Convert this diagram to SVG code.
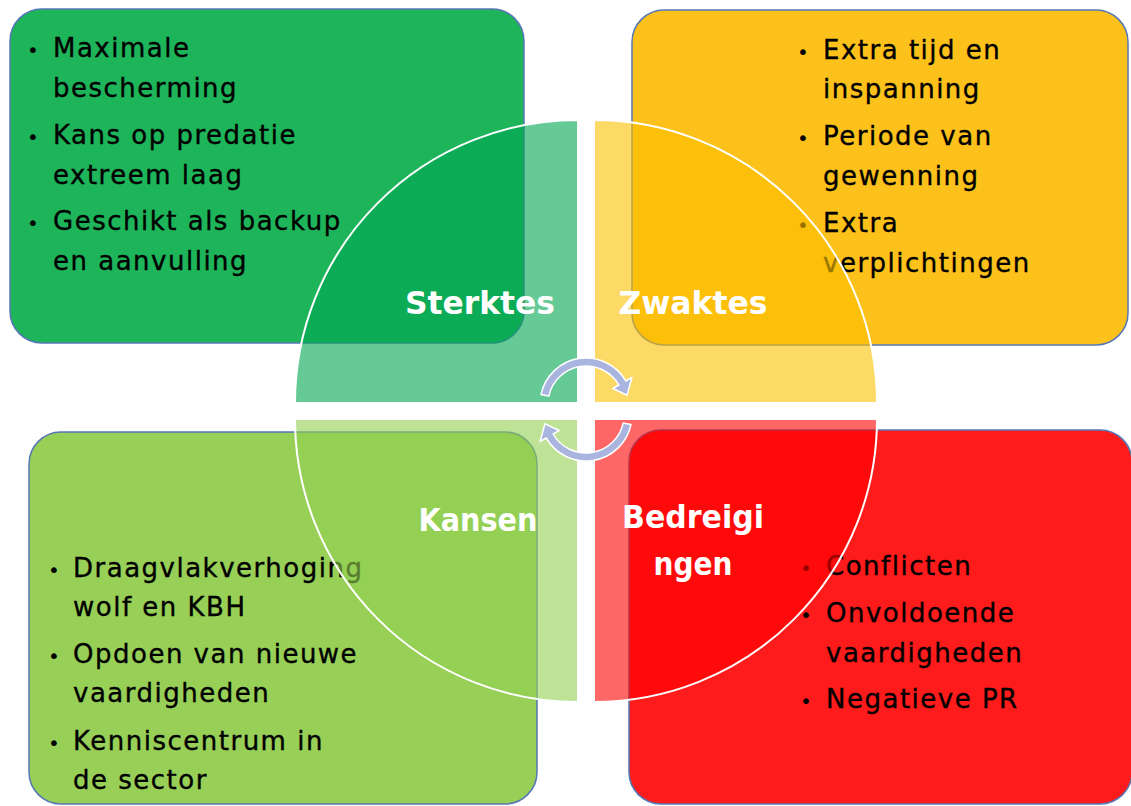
<svg xmlns="http://www.w3.org/2000/svg" width="1131" height="806" viewBox="0 0 1131 806">
<style>
.box{stroke:#5577b5;stroke-width:1.5}
.t{font-family:"DejaVu Sans",sans-serif;font-size:26px;letter-spacing:1.5px;fill:#000;stroke:#000;stroke-width:0.35}
.b{font-family:"DejaVu Sans",sans-serif;font-size:20px;fill:#000;text-anchor:middle}
.q{fill-opacity:0.6;stroke:#fff;stroke-width:2}
.lbl{font-family:"DejaVu Sans",sans-serif;font-size:31.5px;font-weight:bold;fill:#fff;text-anchor:middle}
.arr{fill:#a9b5de;stroke:#fff;stroke-width:1.5;stroke-linejoin:round}
</style>
<rect width="1131" height="806" fill="#fff"/>
<g id="box-sterktes">
<rect class="box" x="10" y="9" width="514" height="334" rx="32" fill="#1db45a"/>
<text class="b" x="33" y="57">•</text><text class="t" x="53" y="57">Maximale</text>
<text class="t" x="53" y="97">bescherming</text>
<text class="b" x="33" y="144">•</text><text class="t" x="53" y="144">Kans op predatie</text>
<text class="t" x="53" y="184">extreem laag</text>
<text class="b" x="33" y="230">•</text><text class="t" x="53" y="230">Geschikt als backup</text>
<text class="t" x="53" y="270">en aanvulling</text>
</g>
<g id="box-zwaktes">
<rect class="box" x="632" y="10" width="496" height="335" rx="32" fill="#fdc11c"/>
<text class="b" x="803" y="59">•</text><text class="t" x="823" y="59">Extra tijd en</text>
<text class="t" x="823" y="98">inspanning</text>
<text class="b" x="803" y="145">•</text><text class="t" x="823" y="145">Periode van</text>
<text class="t" x="823" y="185">gewenning</text>
<text class="b" x="803" y="232">•</text><text class="t" x="823" y="232">Extra</text>
<text class="t" x="823" y="272">verplichtingen</text>
</g>
<g id="box-kansen">
<rect class="box" x="29" y="432" width="508" height="372" rx="32" fill="#97cf57"/>
<text class="b" x="54" y="577">•</text><text class="t" x="73" y="577">Draagvlakverhoging</text>
<text class="t" x="73" y="616">wolf en KBH</text>
<text class="b" x="54" y="663">•</text><text class="t" x="73" y="663">Opdoen van nieuwe</text>
<text class="t" x="73" y="702">vaardigheden</text>
<text class="b" x="54" y="750">•</text><text class="t" x="73" y="750">Kenniscentrum in</text>
<text class="t" x="73" y="789">de sector</text>
</g>
<g id="box-bedreigingen">
<rect class="box" x="629" y="430" width="503" height="374" rx="32" fill="#fe1b1b"/>
<text class="b" x="806" y="575">•</text><text class="t" x="826" y="575">Conflicten</text>
<text class="b" x="806" y="622">•</text><text class="t" x="826" y="622">Onvoldoende</text>
<text class="t" x="826" y="662">vaardigheden</text>
<text class="b" x="806" y="708">•</text><text class="t" x="826" y="708">Negatieve PR</text>
</g>
<g id="q-sterktes">
<path class="q" fill="#00a651" d="M578 403 L295 403 A283 283 0 0 1 578 120 Z"/>
<text class="lbl" x="480" y="314" textLength="150" lengthAdjust="spacingAndGlyphs">Sterktes</text>
</g>
<g id="q-zwaktes">
<path class="q" fill="#fbbf00" d="M594 403 L594 120 A283 283 0 0 1 877 403 Z"/>
<text class="lbl" x="693" y="314" textLength="149" lengthAdjust="spacingAndGlyphs">Zwaktes</text>
</g>
<g id="q-kansen">
<path class="q" fill="#92d050" d="M578 419 L578 702 A283 283 0 0 1 295 419 Z"/>
<text class="lbl" x="478" y="531" textLength="119" lengthAdjust="spacingAndGlyphs">Kansen</text>
</g>
<g id="q-bedreigingen">
<path class="q" fill="#ff0000" d="M594 419 L877 419 A283 283 0 0 1 594 702 Z"/>
<text class="lbl" x="693" y="528" textLength="142" lengthAdjust="spacingAndGlyphs">Bedreigi</text>
<text class="lbl" x="693" y="575" textLength="79" lengthAdjust="spacingAndGlyphs">ngen</text>
</g>
<g id="connectors">
<path class="arr" d="M541.01 394.44 A46 46 0 0 1 625.84 381 L631.9 377.5 L627.08 395.27 L612.85 388.5 L618.91 385 A38 38 0 0 0 548.83 396.1 Z"/>
<path class="arr" d="M630.99 424.56 A46 46 0 0 1 546.16 438 L540.1 441.5 L544.92 423.73 L559.15 430.5 L553.09 434 A38 38 0 0 0 623.17 422.9 Z"/>
</g>
</svg>
